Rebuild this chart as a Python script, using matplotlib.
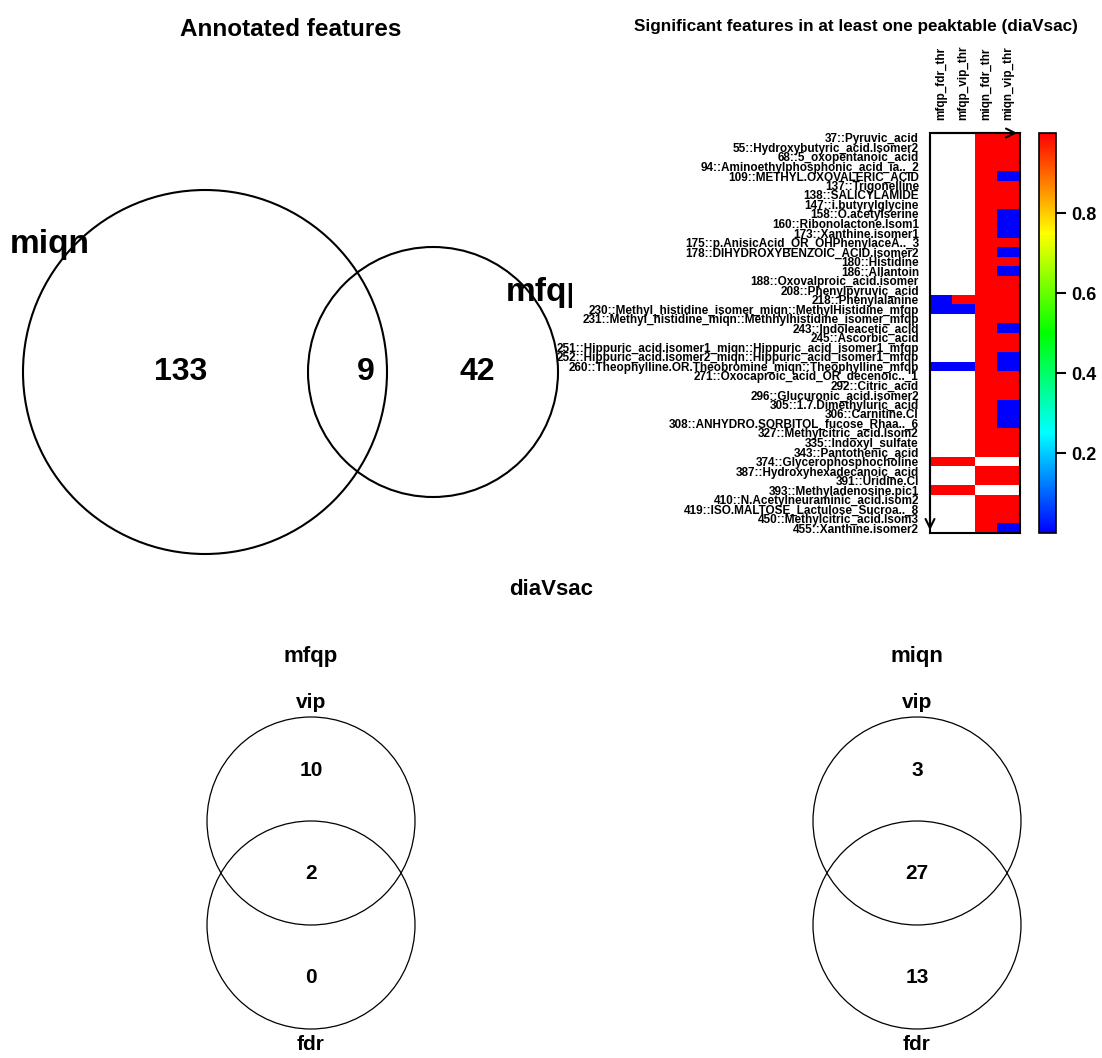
import numpy as np
import matplotlib
matplotlib.use("Agg")
import matplotlib.pyplot as plt
from matplotlib.patches import Circle
from matplotlib.colors import LinearSegmentedColormap

plt.rcParams['font.family'] = ['Liberation Sans', 'DejaVu Sans']
plt.rcParams['font.weight'] = 'bold'

W, H = 1102, 1058

# --- data ---
annot_names = ['miqn', 'mfqp']
annot_counts = [133, 9, 42]          # miqn only, both, mfqp only

venn_tables = ['mfqp', 'miqn']
venn_sets = ['vip', 'fdr']
mfqp_counts = [10, 2, 0]             # vip only, both, fdr only
miqn_counts = [3, 27, 13]

heat_cols = ['mfqp_fdr_thr', 'mfqp_vip_thr', 'miqn_fdr_thr', 'miqn_vip_thr']
heat_rows = [
    '37::Pyruvic_acid', '55::Hydroxybutyric_acid.Isomer2', '68::5_oxopentanoic_acid',
    '94::Aminoethylphosphonic_acid_ia.._2', '109::METHYL.OXOVALERIC_ACID', '137::Trigonelline',
    '138::SALICYLAMIDE', '147::i.butyrylglycine', '158::O.acetylserine',
    '160::Ribonolactone.Isom1', '173::Xanthine.isomer1', '175::p.AnisicAcid_OR_OHPhenylaceA.._3',
    '178::DIHYDROXYBENZOIC_ACID.isomer2', '180::Histidine', '186::Allantoin',
    '188::Oxovalproic_acid.isomer', '208::Phenylpyruvic_acid', '218::Phenylalanine',
    '230::Methyl_histidine_isomer_miqn::MethylHistidine_mfqp',
    '231::Methyl_histidine_miqn::Methhylhistidine_isomer_mfqp',
    '243::Indoleacetic_acid', '245::Ascorbic_acid',
    '251::Hippuric_acid.isomer1_miqn::Hippuric_acid_isomer1_mfqp',
    '252::Hippuric_acid.isomer2_miqn::Hippuric_acid_isomer1_mfqp',
    '260::Theophylline.OR.Theobromine_miqn::Theophylline_mfqp',
    '271::Oxocaproic_acid_OR_decenoic.._1', '292::Citric_acid', '296::Glucuronic_acid.isomer2',
    '305::1.7.Dimethyluric_acid', '306::Carnitine.CI', '308::ANHYDRO.SORBITOL_fucose_Rhaa.._6',
    '327::Methylcitric_acid.Isom2', '335::Indoxyl_sulfate', '343::Pantothenic_acid',
    '374::Glycerophosphocholine', '387::Hydroxyhexadecanoic_acid', '391::Uridine.CI',
    '393::Methyladenosine.pic1', '410::N.Acetylneuraminic_acid.isom2',
    '419::ISO.MALTOSE_Lactulose_Sucroa.._8', '450::Methylcitric_acid.Isom3', '455::Xanthine.isomer2',
]
N = None  # feature not present in that peaktable
mfqp_fdr = [N, N, N, N, N, N, N, N, N, N, N, N, N, N, N, N, N, 0, 0, N, N,
            N, N, N, 0, N, N, N, N, N, N, N, N, N, 1, N, N, 1, N, N, N, N]
mfqp_vip = [N, N, N, N, N, N, N, N, N, N, N, N, N, N, N, N, N, 1, 0, N, N,
            N, N, N, 0, N, N, N, N, N, N, N, N, N, 1, N, N, 1, N, N, N, N]
miqn_fdr = [1, 1, 1, 1, 1, 1, 1, 1, 1, 1, 1, 1, 1, 1, 1, 1, 1, 1, 1, 1, 1,
            1, 1, 1, 1, 1, 1, 1, 1, 1, 1, 1, 1, 1, N, 1, 1, N, 1, 1, 1, 1]
miqn_vip = [1, 1, 1, 1, 0, 1, 1, 1, 0, 0, 0, 1, 0, 1, 0, 1, 1, 1, 1, 1, 0,
            1, 1, 0, 0, 1, 1, 1, 0, 0, 0, 1, 1, 1, N, 1, 1, N, 1, 1, 1, 0]


def px_axes(fig, x0, y0, x1, y1):
    # axes placed by pixel box (top-left origin)
    return fig.add_axes([x0 / W, 1 - y1 / H, (x1 - x0) / W, (y1 - y0) / H])


fig = plt.figure(figsize=(W / 100, H / 100), dpi=100)
fig.patch.set_facecolor('white')

# --- top left: annotated features venn ---
ax1 = px_axes(fig, 0, 0, 572, 580)
ax1.set_xlim(0, 572)
ax1.set_ylim(580, 0)
ax1.axis('off')
ax1.text(291, 30, 'Annotated features', fontsize=17.5, ha='center', va='center')
ax1.add_patch(Circle((205, 372), 182, fill=False, lw=1.5, ec='black'))
ax1.add_patch(Circle((433, 372), 125, fill=False, lw=1.5, ec='black'))
ax1.text(10, 244, annot_names[0], fontsize=24, ha='left', va='center')
ax1.text(506, 292, annot_names[1], fontsize=24, ha='left', va='center', clip_on=True)
for xp, c in zip([181, 366, 477], annot_counts):
    ax1.text(xp, 372, str(c), fontsize=23, ha='center', va='center')

# --- top right: heatmap ---
cmap = LinearSegmentedColormap.from_list(
    'rb', ['#0000FF', '#00FFFF', '#00FF00', '#FFFF00', '#FF0000'])
cmap.set_bad('white')
mat = np.array([mfqp_fdr, mfqp_vip, miqn_fdr, miqn_vip], dtype=float).T
mat = np.ma.masked_invalid(mat)

ax2 = px_axes(fig, 930, 133, 1020, 533)
im = ax2.imshow(mat, cmap=cmap, vmin=0, vmax=1, aspect='auto', interpolation='nearest')
ax2.set_yticks(np.arange(len(heat_rows)))
ax2.set_yticklabels(heat_rows, fontsize=8.5)
ax2.set_xticks(np.arange(len(heat_cols)))
ax2.set_xticklabels(heat_cols, rotation=90, fontsize=8.5)
ax2.xaxis.tick_top()
ax2.tick_params(axis='y', length=0, pad=8)
ax2.tick_params(axis='x', length=0, pad=9)
for s in ax2.spines.values():
    s.set_linewidth(1.5)
ax2.annotate('', xy=(1.0, 1.0), xytext=(0.0, 1.0), xycoords='axes fraction',
             arrowprops=dict(arrowstyle='->', lw=1.5, color='black', mutation_scale=16),
             annotation_clip=False)
ax2.annotate('', xy=(0.0, 0.0), xytext=(0.0, 1.0), xycoords='axes fraction',
             arrowprops=dict(arrowstyle='->', lw=1.5, color='black', mutation_scale=16),
             annotation_clip=False)
fig.text(856 / W, 1 - 27 / H, 'Significant features in at least one peaktable (diaVsac)',
         fontsize=12.3, ha='center', va='center')

cax = px_axes(fig, 1039, 133, 1056, 533)
cb = fig.colorbar(im, cax=cax, ticks=[0.2, 0.4, 0.6, 0.8])
cb.outline.set_linewidth(1.2)
cax.tick_params(length=7, width=1.5, labelsize=13, pad=4)
cax.set_yticklabels(['0.2', '0.4', '0.6', '0.8'])

# --- bottom: vip / fdr venns ---
ax3 = px_axes(fig, 0, 560, W, H)
ax3.set_xlim(0, W)
ax3.set_ylim(H, 560)
ax3.axis('off')
ax3.text(551, 590, 'diaVsac', fontsize=16, ha='center', va='center')
for cx, name, counts in zip([311, 917], venn_tables, [mfqp_counts, miqn_counts]):
    ax3.add_patch(Circle((cx, 821), 104, fill=False, lw=0.9, ec='black'))
    ax3.add_patch(Circle((cx, 925), 104, fill=False, lw=0.9, ec='black'))
    ax3.text(cx, 657, name, fontsize=16, ha='center', va='center')
    ax3.text(cx, 703, venn_sets[0], fontsize=15, ha='center', va='center')
    ax3.text(cx, 1045, venn_sets[1], fontsize=15, ha='center', va='center')
    for yp, c in zip([771, 874, 978], counts):
        ax3.text(cx, yp, str(c), fontsize=15, ha='center', va='center')

fig.savefig('out.png', dpi=100, facecolor='white')
